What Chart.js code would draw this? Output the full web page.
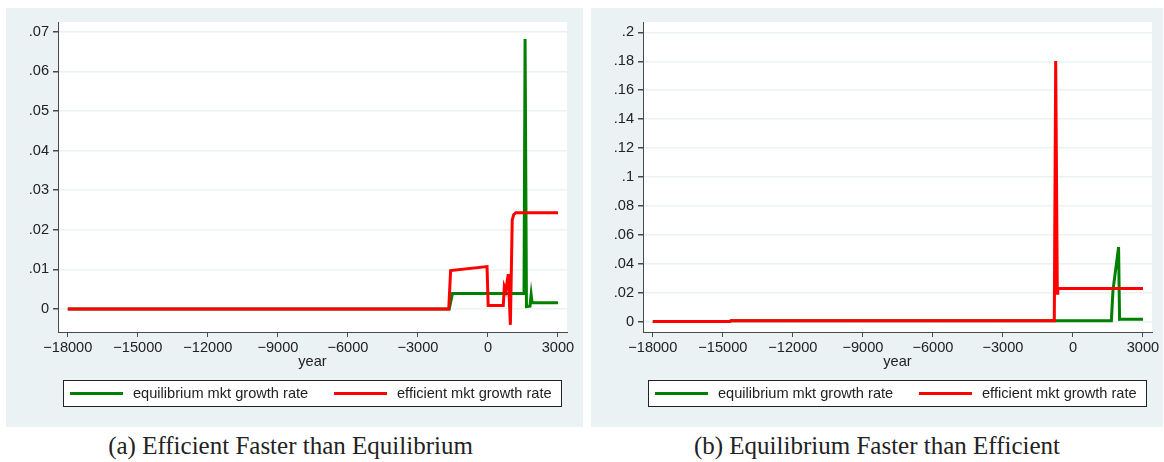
<!DOCTYPE html>
<html>
<head>
<meta charset="utf-8">
<script src="https://cdn.jsdelivr.net/npm/chart.js@4"></script>
<style>
  body { margin: 0; background: #fff; width: 1164px; height: 462px; position: relative; overflow: hidden; }
  .panel { position: absolute; top: 8px; height: 419px; background: #eaf2f3; }
  .caption { position: absolute; top: 432px; font-family: "Liberation Serif", serif; font-size: 25px; color: #222; text-align: center; }
</style>
</head>
<body>
<div class="panel" style="left:6px;width:577px"><canvas id="chartA" width="577" height="419"></canvas></div>
<div class="panel" style="left:591px;width:572px"><canvas id="chartB" width="572" height="419"></canvas></div>
<div class="caption" style="left:2px;width:577px">(a) Efficient Faster than Equilibrium</div>
<div class="caption" style="left:591px;width:572px">(b) Equilibrium Faster than Efficient</div>
<script>
// x ticks shared by both panels
const yearTicks = [-18000, -15000, -12000, -9000, -6000, -3000, 0, 3000];
const seriesNames = ['equilibrium mkt growth rate', 'efficient mkt growth rate'];

// panel (a)
const eqYearsA = [-18000, -1660, -1520, 1545, 1590, 1650, 1800, 1850, 1890, 3000];
const eqRateA  = [0, 0, 0.0039, 0.0039, 0.0682, 0.0006, 0.0007, 0.0036, 0.0016, 0.0016];
const effYearsA = [-18000, -1680, -1600, -40, 10, 656, 700, 760, 870, 960, 1040, 1100, 1190, 3000];
const effRateA  = [0, 0, 0.0097, 0.0107, 0.0009, 0.0009, 0.0056, 0.0046, 0.0088, -0.0040, 0.0225, 0.0238, 0.0243, 0.0243];
const yTicksA = [0, 0.01, 0.02, 0.03, 0.04, 0.05, 0.06, 0.07];
const yLabelsA = ['0', '.01', '.02', '.03', '.04', '.05', '.06', '.07'];

// panel (b)
const eqYearsB = [-18000, -14700, -14650, 1645, 1714, 1954, 1997, 2050, 3000];
const eqRateB  = [0, 0, 0.0006, 0.0006, 0.0216, 0.0515, 0.0015, 0.0016, 0.0016];
const effYearsB = [-18000, -14700, -14650, -800, -740, -670, -650, 3000];
const effRateB  = [0, 0, 0.0006, 0.0006, 0.1803, 0.0195, 0.0228, 0.0228];
const yTicksB = [0, 0.02, 0.04, 0.06, 0.08, 0.1, 0.12, 0.14, 0.16, 0.18, 0.2];
const yLabelsB = ['0', '.02', '.04', '.06', '.08', '.1', '.12', '.14', '.16', '.18', '.2'];

const GREEN = '#008000';
const RED = '#ff0000';
const AXIS = '#4a4a4a';
const GRID = '#eaf2f3';
const FONT = 'Liberation Sans, Arial, sans-serif';

function pts(xs, ys) {
  return xs.map((x, i) => ({ x: x, y: ys[i] }));
}

const plotBg = {
  id: 'plotBg',
  beforeDraw(chart) {
    const a = chart.chartArea, c = chart.ctx;
    c.save();
    c.fillStyle = '#fff';
    c.fillRect(a.left, a.top, a.right - a.left, a.bottom - a.top);
    c.restore();
  }
};

// stata-style legend box under the plot
const boxLegend = {
  id: 'boxLegend',
  afterDraw(chart) {
    const a = chart.chartArea, c = chart.ctx;
    const left = a.left + 5, right = a.right - 5, top = 372, h = 27;
    c.save();
    c.fillStyle = '#fff';
    c.fillRect(left, top, right - left, h);
    c.strokeStyle = '#222';
    c.lineWidth = 1;
    c.strokeRect(left + 0.5, top + 0.5, right - left - 1, h - 1);
    c.font = '14.6px ' + FONT;
    c.textBaseline = 'middle';
    c.fillStyle = '#222';
    chart.data.datasets.forEach((ds, i) => {
      const x0 = left + 7 + i * 264;
      c.strokeStyle = ds.borderColor;
      c.lineWidth = 3;
      c.beginPath();
      c.moveTo(x0, top + h / 2);
      c.lineTo(x0 + 53, top + h / 2);
      c.stroke();
      c.fillText(ds.label, x0 + 63, top + h / 2 + 0.5);
    });
    c.restore();
  }
};

function makeChart(id, eqX, eqY, effX, effY, yTicks, yLabels, yMin, yMax, padRight) {
  return new Chart(document.getElementById(id), {
    type: 'line',
    data: {
      datasets: [
        { label: seriesNames[0], data: pts(eqX, eqY), borderColor: GREEN, borderWidth: 3, pointRadius: 0, tension: 0, order: 1 },
        { label: seriesNames[1], data: pts(effX, effY), borderColor: RED, borderWidth: 3, pointRadius: 0, tension: 0, order: 0 }
      ]
    },
    options: {
      responsive: false,
      animation: false,
      layout: { padding: { left: 0, top: 14, right: padRight, bottom: 56 } },
      plugins: { legend: { display: false }, tooltip: { enabled: false } },
      scales: {
        x: {
          type: 'linear',
          min: -18420,
          max: 3386,
          afterBuildTicks(s) { s.ticks = yearTicks.map(v => ({ value: v })); },
          afterFit(s) { s.height = 39; },
          grid: { drawOnChartArea: false, drawTicks: true, tickLength: 5, color: AXIS },
          border: { display: true, color: AXIS, width: 1 },
          ticks: {
            autoSkip: false, maxRotation: 0, padding: 2, color: '#222',
            font: { family: FONT, size: 14.6 },
            callback: v => (v < 0 ? '\u2212' + Math.abs(v) : String(v))
          },
          title: { display: true, text: 'year', color: '#222', font: { family: FONT, size: 14.6 }, padding: { top: 0, bottom: 0 } }
        },
        y: {
          min: yMin,
          max: yMax,
          afterBuildTicks(s) { s.ticks = yTicks.map(v => ({ value: v })); },
          afterFit(s) { s.width = 52; },
          grid: { drawOnChartArea: true, color: GRID, lineWidth: 1.5, tickColor: AXIS, tickLength: 5 },
          border: { display: true, color: AXIS, width: 1 },
          ticks: {
            padding: 4, color: '#222',
            font: { family: FONT, size: 14.6 },
            callback: (v, i) => yLabels[yTicks.indexOf(v)]
          }
        }
      }
    },
    plugins: [plotBg, boxLegend]
  });
}

makeChart('chartA', eqYearsA, eqRateA, effYearsA, effRateA, yTicksA, yLabelsA, -0.00581, 0.07247, 16);
makeChart('chartB', eqYearsB, eqRateB, effYearsB, effRateB, yTicksB, yLabelsB, -0.00724, 0.2072, 11);
</script>
</body>
</html>
